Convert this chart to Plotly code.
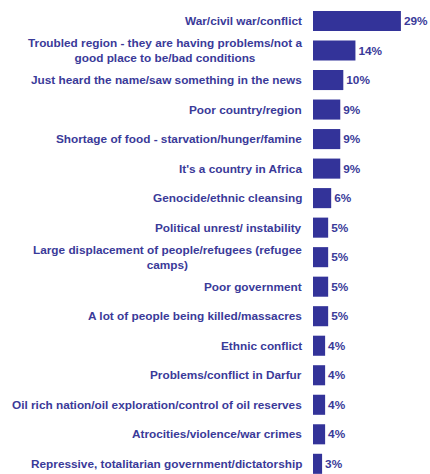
import plotly.graph_objects as go

categories = [
    "War/civil war/conflict",
    "Troubled region - they are having problems/not a<br>good place to be/bad conditions",
    "Just heard the name/saw something in the news",
    "Poor country/region",
    "Shortage of food - starvation/hunger/famine",
    "It's a country in Africa",
    "Genocide/ethnic cleansing",
    "Political unrest/ instability",
    "Large displacement of people/refugees (refugee<br>camps)",
    "Poor government",
    "A lot of people being killed/massacres",
    "Ethnic conflict",
    "Problems/conflict in Darfur",
    "Oil rich nation/oil exploration/control of oil reserves",
    "Atrocities/violence/war crimes",
    "Repressive, totalitarian government/dictatorship",
]
values = [29, 14, 10, 9, 9, 9, 6, 5, 5, 5, 5, 4, 4, 4, 4, 3]
value_labels = [f"{v}%" for v in values]

BAR = "#333399"
TEXT = "#3a3a99"
FONT = "Liberation Sans"
SIZE = 11.8

positions = list(range(len(categories)))

fig = go.Figure(
    go.Bar(
        x=values,
        y=positions,
        orientation="h",
        marker=dict(color=BAR, line=dict(width=0)),
        width=0.68,
        text=value_labels,
        textposition="outside",
        constraintext="none",
        cliponaxis=False,
        textfont=dict(family=FONT, size=SIZE, color=TEXT, weight="bold"),
        hoverinfo="skip",
    )
)

# category labels, right-aligned next to the bars, centred line by line
for pos, label in zip(positions, categories):
    fig.add_annotation(
        x=0, y=pos, xref="x", yref="y",
        text=label, showarrow=False,
        xanchor="right", yanchor="middle", align="center",
        xshift=-9,
        font=dict(family=FONT, size=SIZE, color=TEXT, weight="bold"),
    )

fig.update_layout(
    width=430, height=474,
    margin=dict(l=313, r=0, t=0, b=0),
    paper_bgcolor="white", plot_bgcolor="white",
    showlegend=False,
    xaxis=dict(range=[0, 38.6], visible=False, fixedrange=True),
    yaxis=dict(range=[15.345, -0.711], visible=False, fixedrange=True),
)

fig.write_html("out.html")
